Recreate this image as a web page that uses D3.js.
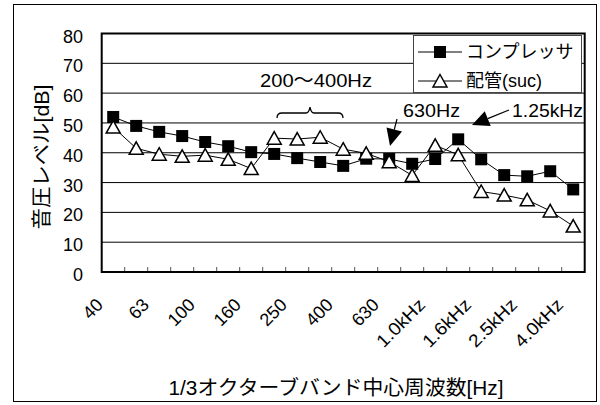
<!DOCTYPE html>
<html><head><meta charset="utf-8">
<script src="https://cdn.jsdelivr.net/npm/d3@7"></script>
<style>
html,body{margin:0;padding:0;background:#fff;}
svg{display:block;}
text{font-family:"Liberation Sans","Noto Sans CJK JP",sans-serif;fill:#000;}
</style></head>
<body>
<script>
const categories = ["40","50","63","80","100","125","160","200","250","315","400","500","630","800","1.0kHz","1.25kHz","1.6kHz","2.0kHz","2.5kHz","3.15kHz","4.0kHz"];
const tickLabels = ["40","63","100","160","250","400","630","1.0kHz","1.6kHz","2.5kHz","4.0kHz"];
const compressor = [52, 49, 47, 45.6, 43.6, 42.2, 40.2, 39.6, 38.2, 36.9, 35.6, 38, 37.9, 36.3, 37.9, 44.5, 37.8, 32.5, 32.1, 33.8, 27.7];
const piping = [48.6, 41.5, 39.5, 38.8, 39.2, 37.8, 34.7, 44.9, 44.6, 45.2, 41.2, 39.8, 37.0, 32.4, 42.5, 39.3, 27.0, 25.8, 24.2, 20.5, 15.4];
const seriesNames = ["コンプレッサ", "配管(suc)"];
const yTicks = [0,10,20,30,40,50,60,70,80];

const W = 600, H = 405;
const svg = d3.select("body").append("svg").attr("width", W).attr("height", H);

// outer frame
svg.append("rect").attr("x",13.5).attr("y",4.5).attr("width",583).attr("height",397)
  .attr("fill","#fff").attr("stroke","#000").attr("stroke-width",1);

const L = 101.7, R = 584.7, T = 33.5, B = 272;
const x = d3.scaleBand().domain(categories).range([L, R]).padding(0);
const y = d3.scaleLinear().domain([0, 80]).range([B, T]);
const cx = c => x(c) + x.bandwidth()/2;

// gridlines
svg.append("g").selectAll("line").data(yTicks.filter(v => v > 0 && v < 80)).join("line")
  .attr("x1", L).attr("x2", R).attr("y1", d => y(d)).attr("y2", d => y(d))
  .attr("stroke", "#000").attr("stroke-width", 1);

// inside ticks at category boundaries
const bounds = categories.map(c => x(c)).slice(1);
svg.append("g").selectAll("line").data(bounds).join("line")
  .attr("x1", d => d).attr("x2", d => d).attr("y1", B).attr("y2", B - 5)
  .attr("stroke", "#555").attr("stroke-width", 1);

// plot border
svg.append("rect").attr("x", L).attr("y", T).attr("width", R - L).attr("height", B - T)
  .attr("fill", "none").attr("stroke", "#000").attr("stroke-width", 2);

// y tick labels
svg.append("g").selectAll("text").data(yTicks).join("text")
  .attr("x", 83).attr("y", d => y(d) + 3).attr("text-anchor", "end")
  .attr("dominant-baseline", "central").attr("font-size", 18).text(d => d);

// x tick labels
svg.append("g").selectAll("text").data(tickLabels).join("text")
  .attr("text-anchor", "end").attr("font-size", 18)
  .attr("transform", d => `translate(${cx(d) - 9},${306}) rotate(-45)`)
  .each(function(d) { if (d.includes("kHz")) d3.select(this).attr("textLength", 60).attr("lengthAdjust", "spacingAndGlyphs"); })
  .text(d => d);

// axis titles
svg.append("text").attr("x", 336).attr("y", 395).attr("text-anchor", "middle")
  .attr("font-size", 20).attr("textLength", 335).attr("lengthAdjust", "spacingAndGlyphs")
  .text("1/3オクターブバンド中心周波数[Hz]");
svg.append("text").attr("transform", "translate(49,157) rotate(-90)").attr("text-anchor", "middle")
  .attr("font-size", 20).attr("textLength", 145).attr("lengthAdjust", "spacingAndGlyphs")
  .text("音圧レベル[dB]");

const line = d3.line().x((d, i) => cx(categories[i])).y(d => y(d));
const triPath = (px, py) => `M${px},${py-6.5}L${px+7},${py+6}L${px-7},${py+6}Z`;

// series 1
svg.append("path").datum(compressor).attr("d", line).attr("fill", "none").attr("stroke", "#000").attr("stroke-width", 1);
svg.append("g").selectAll("rect").data(compressor).join("rect")
  .attr("x", (d, i) => cx(categories[i]) - 6).attr("y", d => y(d) - 6)
  .attr("width", 12).attr("height", 12).attr("fill", "#000");

// series 2
svg.append("path").datum(piping).attr("d", line).attr("fill", "none").attr("stroke", "#000").attr("stroke-width", 1);
svg.append("g").selectAll("path").data(piping).join("path")
  .attr("d", (d, i) => triPath(cx(categories[i]), y(d)))
  .attr("fill", "#fff").attr("stroke", "#000").attr("stroke-width", 1.5);

// legend
const lg = svg.append("g");
lg.append("rect").attr("x", 413.5).attr("y", 35.5).attr("width", 168).attr("height", 57)
  .attr("fill", "#fff").attr("stroke", "#444").attr("stroke-width", 1);
[52, 81].forEach((ly, k) => {
  lg.append("line").attr("x1", 418).attr("x2", 462).attr("y1", ly).attr("y2", ly).attr("stroke", "#000");
  if (k === 0) lg.append("rect").attr("x", 434).attr("y", ly - 6).attr("width", 12).attr("height", 12).attr("fill", "#000");
  else lg.append("path").attr("d", triPath(440, ly)).attr("fill", "#fff").attr("stroke", "#000").attr("stroke-width", 1.5);
  lg.append("text").attr("x", 466).attr("y", ly).attr("dominant-baseline", "central")
    .attr("font-size", 18).text(seriesNames[k]);
});

// annotations
svg.append("text").attr("x", 260).attr("y", 87).attr("font-size", 19)
  .attr("textLength", 112).attr("lengthAdjust", "spacingAndGlyphs").text("200～400Hz");
svg.append("path").attr("d", "M277,118 Q277,113 282,113 L306,113 Q309,113 310,107 Q311,113 314,113 L338,113 Q343,113 343,118")
  .attr("fill", "none").attr("stroke", "#000").attr("stroke-width", 1.3);
svg.append("text").attr("x", 403).attr("y", 117).attr("font-size", 19)
  .attr("textLength", 57).attr("lengthAdjust", "spacingAndGlyphs").text("630Hz");
svg.append("text").attr("x", 512).attr("y", 117).attr("font-size", 19)
  .attr("textLength", 71).attr("lengthAdjust", "spacingAndGlyphs").text("1.25kHz");

function arrow(sx, sy, tx, ty, len, hw) {
  const dx = tx - sx, dy = ty - sy, d = Math.hypot(dx, dy);
  const ux = dx / d, uy = dy / d;
  const bx = tx - ux * len, by = ty - uy * len;
  svg.append("line").attr("x1", sx).attr("y1", sy).attr("x2", bx).attr("y2", by).attr("stroke", "#000").attr("stroke-width", 1.2);
  svg.append("path").attr("d", `M${tx},${ty}L${bx - uy*hw},${by + ux*hw}L${bx + uy*hw},${by - ux*hw}Z`).attr("fill", "#000");
}
arrow(397, 119, 390, 146, 17, 8);
arrow(509, 110, 472, 125, 17, 8);
</script>
</body></html>
